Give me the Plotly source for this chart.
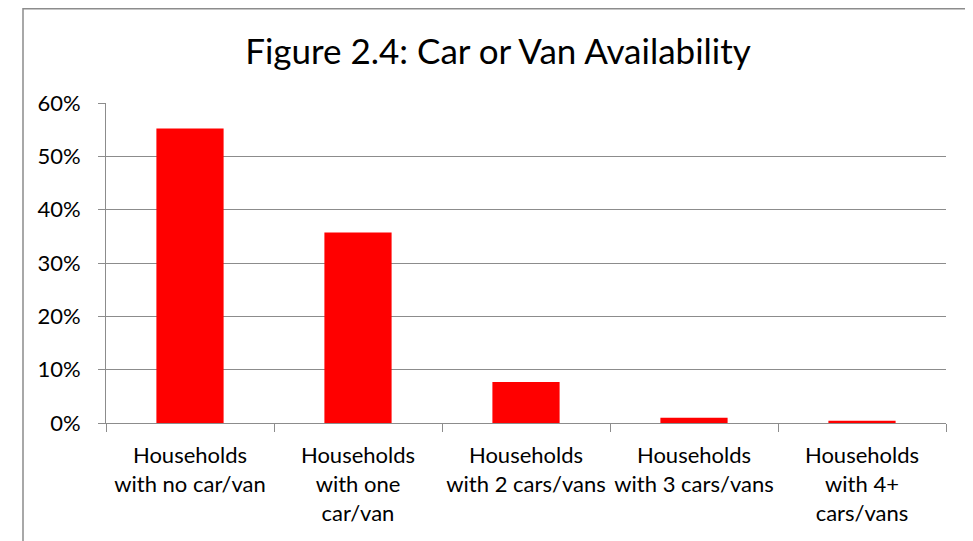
import plotly.graph_objects as go

categories = [
    "Households<br>with no car/van",
    "Households<br>with one<br>car/van",
    "Households<br>with 2 cars/vans",
    "Households<br>with 3 cars/vans",
    "Households<br>with 4+<br>cars/vans",
]
values = [0.552, 0.357, 0.077, 0.010, 0.004]
y_ticks = [0, 0.1, 0.2, 0.3, 0.4, 0.5, 0.6]
y_tick_labels = ["0%", "10%", "20%", "30%", "40%", "50%", "60%"]
title_text = "Figure 2.4: Car or Van Availability"

FONT = "Lato"
GREY = "#8c8c8c"

fig = go.Figure(
    go.Bar(
        x=categories,
        y=values,
        marker=dict(color="#ff0000", line=dict(width=0)),
        width=0.4,
    )
)

# the page body adds an 8px offset; figure is sized to fill the rest
OFF = 8
W, H = 973 - OFF, 541 - OFF
L = 106 - OFF
T = 103 - OFF
R = W - (946 - OFF)
B = H - (423 - OFF)
pw = W - L - R
ph = H - T - B

fig.update_layout(
    width=W,
    height=H,
    margin=dict(l=L, r=R, t=T, b=B),
    paper_bgcolor="white",
    plot_bgcolor="white",
    showlegend=False,
    title=dict(
        text=title_text,
        font=dict(family=FONT, size=35, color="#000000"),
        x=(498 - 106) / pw,
        xref="paper",
        xanchor="center",
        y=1 - (52 - OFF) / H,
        yref="container",
        yanchor="middle",
    ),
    font=dict(family=FONT, size=22, color="#000000"),
    bargap=0.6,
)

fig.update_xaxes(
    showline=True,
    linecolor=GREY,
    linewidth=1,
    ticks="outside",
    tickson="boundaries",
    ticklen=8,
    tickcolor=GREY,
    tickwidth=1,
    showgrid=False,
    tickfont=dict(family=FONT, size=22, color="#000000"),
    tickangle=0,
    ticklabelstandoff=13,
)

fig.update_yaxes(
    range=[0, 0.6],
    tickvals=y_ticks,
    ticktext=y_tick_labels,
    showline=True,
    linecolor=GREY,
    linewidth=1,
    ticks="outside",
    ticklen=7,
    tickcolor=GREY,
    tickwidth=1,
    showgrid=True,
    gridcolor=GREY,
    gridwidth=1,
    zeroline=False,
    tickfont=dict(family=FONT, size=22, color="#000000"),
    ticklabelstandoff=13,
)

# outer chart border (cropped at bottom/top/right by the window)
fig.add_shape(
    type="rect",
    xref="paper",
    yref="paper",
    x0=(23 - 106) / pw,
    x1=(972 - 106) / pw,
    y0=-0.6,
    y1=(423 - OFF - 0.75) / ph,
    line=dict(color=GREY, width=1.5),
    fillcolor="rgba(0,0,0,0)",
    layer="below",
)

fig.write_html("out.html")
